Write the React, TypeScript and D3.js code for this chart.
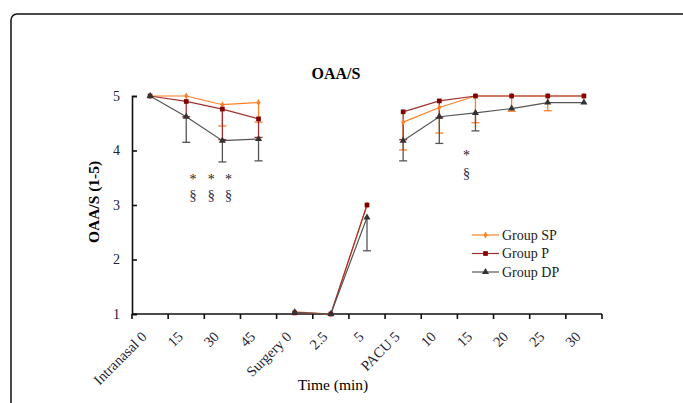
import React, { useEffect, useRef } from "react";
import * as d3 from "d3";

// categories along the x axis (13 time points in 3 phases)
const categories = ["Intranasal 0", "15", "30", "45", "Surgery 0", "2.5", "5", "PACU 5", "10", "15", "20", "25", "30"];
const phase = [0, 0, 0, 0, 1, 1, 1, 2, 2, 2, 2, 2, 2];

const groupSP = [5, 5.0, 4.84, 4.88, 1.04, 1.0, 3.0, 4.52, 4.79, 5, 5, 5, 5];
const groupP = [5, 4.9, 4.76, 4.58, 1.02, 1.0, 3.0, 4.71, 4.91, 5, 5, 5, 5];
const groupDP = [5, 4.62, 4.18, 4.21, 1.03, 1.0, 2.77, 4.18, 4.62, 4.69, 4.77, 4.88, 4.88];

// lower ends of the (one-sided) error bars
const lowSP = [null, null, 4.45, 4.52, null, null, null, 4.01, 4.32, 4.51, 4.72, 4.73, null];
const lowP = [null, 4.62, 4.2, 4.24, null, null, null, 4.2, 4.6, null, null, null, null];
const lowDP = [null, 4.15, 3.79, 3.81, null, null, 2.16, 3.81, 4.13, 4.36, null, null, null];

const yTicks = [1, 2, 3, 4, 5];

// significance marks: [category position, value, symbol]
const marks: [number, number, string][] = [
  [1.19, 3.48, "*"], [1.69, 3.48, "*"], [2.17, 3.48, "*"],
  [1.19, 3.18, "§"], [1.69, 3.18, "§"], [2.17, 3.18, "§"],
  [8.75, 3.92, "*"], [8.75, 3.6, "§"],
];

const App = () => {
  const svgRef = useRef<SVGSVGElement>(null);

  useEffect(() => {
    const width = 683;
    const height = 403;
    const font = "'Liberation Serif', 'Times New Roman', serif";

    const svg = d3.select(svgRef.current);
    svg.selectAll("*").remove();
    svg.attr("width", width).attr("height", height);

    // outer frame
    svg.append("rect")
      .attr("x", 11).attr("y", 14)
      .attr("width", 700).attr("height", 420)
      .attr("rx", 6)
      .attr("fill", "white")
      .attr("stroke", "#111")
      .attr("stroke-width", 1.5);

    const x = d3.scaleBand<number>()
      .domain(categories.map((_, i) => i))
      .range([132, 602])
      .padding(0);
    const bw = x.bandwidth();
    const cx = (i: number) => (x(i) as number) + bw / 2;
    const pos = (p: number) => x.range()[0] + (p + 0.5) * bw;

    const y = d3.scaleLinear().domain([1, 5]).range([314, 96]);

    // title
    svg.append("text")
      .attr("x", 336).attr("y", 79)
      .attr("text-anchor", "middle")
      .style("font-family", font)
      .style("font-size", "16px")
      .style("font-weight", "bold")
      .text("OAA/S");

    // y axis
    const yAxis = svg.append("g")
      .attr("transform", `translate(${x.range()[0]},0)`)
      .call(d3.axisLeft(y).tickValues(yTicks).tickSize(-5).tickPadding(12).tickFormat(d3.format("d")));
    yAxis.select(".domain").attr("stroke", "#111").attr("stroke-width", 1.6);
    yAxis.selectAll(".tick line").attr("stroke", "#111").attr("stroke-width", 1.6);
    yAxis.selectAll("text")
      .style("font-family", font)
      .style("font-size", "14px")
      .attr("fill", "#223");

    // x axis
    const xAxis = svg.append("g")
      .attr("transform", `translate(0,${y(1)})`);
    xAxis.append("line")
      .attr("x1", x.range()[0]).attr("x2", x.range()[1])
      .attr("stroke", "#111").attr("stroke-width", 1.6);
    xAxis.selectAll("line.tick")
      .data(d3.range(categories.length + 1))
      .enter()
      .append("line")
      .attr("class", "tick")
      .attr("x1", (i) => x.range()[0] + i * bw)
      .attr("x2", (i) => x.range()[0] + i * bw)
      .attr("y1", 0).attr("y2", 5)
      .attr("stroke", "#111").attr("stroke-width", 1.6);
    xAxis.selectAll("text")
      .data(categories)
      .enter()
      .append("text")
      .attr("transform", (_, i) => `translate(${cx(i) - 6},${20}) rotate(-45)`)
      .attr("text-anchor", "end")
      .attr("dy", "0.35em")
      .style("font-family", font)
      .style("font-size", "14.5px")
      .attr("fill", "#223")
      .text((d) => d);

    // axis titles
    svg.append("text")
      .attr("x", 333).attr("y", 390)
      .attr("text-anchor", "middle")
      .style("font-family", font)
      .style("font-size", "15.5px")
      .text("Time (min)");
    svg.append("text")
      .attr("transform", `translate(99,${y(3) - 3}) rotate(-90)`)
      .attr("text-anchor", "middle")
      .style("font-family", font)
      .style("font-size", "15.5px")
      .style("font-weight", "bold")
      .text("OAA/S (1-5)");

    const series = [
      { name: "Group SP", values: groupSP, low: lowSP, line: "#ff7f27", marker: "#ff7f27", shape: d3.symbolDiamond, size: 14 },
      { name: "Group P", values: groupP, low: lowP, line: "#a0302e", marker: "#800000", shape: d3.symbolSquare, size: 22 },
      { name: "Group DP", values: groupDP, low: lowDP, line: "#555", marker: "#333", shape: d3.symbolTriangle, size: 22 },
    ];

    const plot = svg.append("g");

    series.forEach((s) => {
      // error bars
      const bars = s.values.map((v, i) => ({ i, v, lo: s.low[i] })).filter((d) => d.lo != null);
      plot.selectAll(null)
        .data(bars)
        .enter()
        .append("line")
        .attr("x1", (d) => cx(d.i)).attr("x2", (d) => cx(d.i))
        .attr("y1", (d) => y(d.v)).attr("y2", (d) => y(d.lo as number))
        .attr("stroke", s.line).attr("stroke-width", 1.3);
      plot.selectAll(null)
        .data(bars)
        .enter()
        .append("line")
        .attr("x1", (d) => cx(d.i) - 4).attr("x2", (d) => cx(d.i) + 4)
        .attr("y1", (d) => y(d.lo as number)).attr("y2", (d) => y(d.lo as number))
        .attr("stroke", s.line).attr("stroke-width", 1.3);
    });

    series.forEach((s) => {
      const pts = s.values.map((v, i) => ({ i, v }));
      d3.groups(pts, (d) => phase[d.i]).forEach(([, seg]) => {
        plot.append("path")
          .datum(seg)
          .attr("fill", "none")
          .attr("stroke", s.line)
          .attr("stroke-width", 1.2)
          .attr("d", d3.line<{ i: number; v: number }>().x((d) => cx(d.i)).y((d) => y(d.v)));
      });
      plot.selectAll(null)
        .data(pts)
        .enter()
        .append("path")
        .attr("transform", (d) => `translate(${cx(d.i)},${y(d.v)})`)
        .attr("d", d3.symbol().type(s.shape).size(s.size))
        .attr("fill", s.marker);
    });

    // significance marks
    svg.selectAll("text.mark")
      .data(marks)
      .enter()
      .append("text")
      .attr("class", "mark")
      .attr("x", (d) => pos(d[0]))
      .attr("y", (d) => y(d[1]))
      .attr("dy", (d) => (d[2] === "*" ? "0.4em" : "0.35em"))
      .attr("text-anchor", "middle")
      .style("font-family", font)
      .style("font-size", (d) => (d[2] === "*" ? "14px" : "15px"))
      .attr("fill", (d) => (d[2] === "*" ? "#222" : "#335"))
      .text((d) => d[2]);

    // legend
    const legend = svg.append("g").attr("transform", "translate(472,235)");
    series.forEach((s, k) => {
      const g = legend.append("g").attr("transform", `translate(0,${k * 18.5})`);
      g.append("line").attr("x1", 0).attr("x2", 27).attr("stroke", s.line).attr("stroke-width", 1.2);
      g.append("path")
        .attr("transform", "translate(13.5,0)")
        .attr("d", d3.symbol().type(s.shape).size(s.size))
        .attr("fill", s.marker);
      g.append("text")
        .attr("x", 30).attr("dy", "0.35em")
        .style("font-family", font)
        .style("font-size", "14px")
        .attr("fill", "#222")
        .text(s.name);
    });
  }, []);

  return <svg ref={svgRef} style={{ position: "absolute", left: 0, top: 0 }}></svg>;
};

export default App;
